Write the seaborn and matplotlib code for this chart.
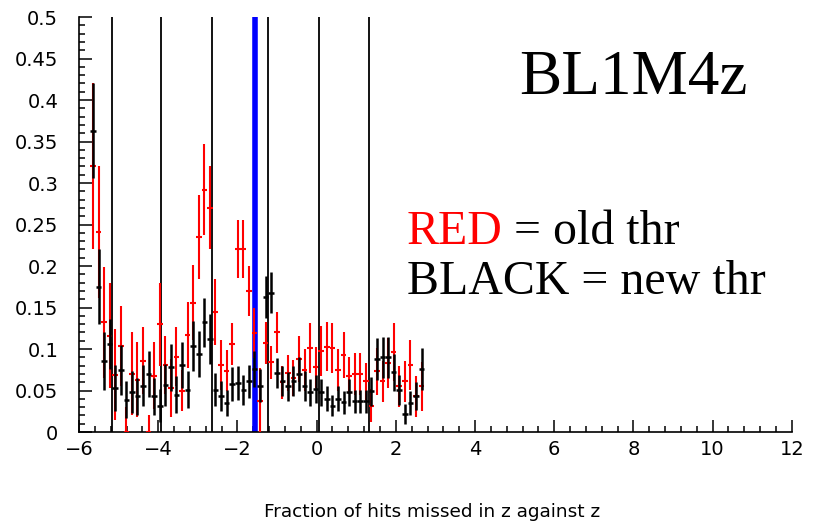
import numpy as np
import pandas as pd
import matplotlib
matplotlib.use("Agg")
import matplotlib.pyplot as plt
from matplotlib.ticker import MultipleLocator, FixedLocator
import seaborn as sns

# Histogram binning (z axis): 128 bins from -6 to 12, filled from bin 2 onward
z_lo, z_hi, n_bins = -6.0, 12.0, 128
first_bin = 2

# Fraction of hits missed, new threshold (black)
new_thr = [0.363, 0.175, 0.086, 0.106, 0.053, 0.075, 0.039, 0.048, 0.043, 0.056,
           0.070, 0.043, 0.032, 0.057, 0.078, 0.045, 0.081, 0.051, 0.104, 0.094,
           0.132, 0.112, 0.051, 0.043, 0.035, 0.058, 0.059, 0.051, 0.061, 0.076,
           0.056, 0.163, 0.168, 0.071, 0.061, 0.055, 0.061, 0.070, 0.055, 0.048,
           0.052, 0.048, 0.040, 0.032, 0.040, 0.036, 0.048, 0.037, 0.037, 0.037,
           0.049, 0.088, 0.090, 0.090, 0.072, 0.051, 0.022, 0.035, 0.043, 0.076]
new_err = [0.057, 0.045, 0.035, 0.030, 0.028, 0.030, 0.022, 0.025, 0.022, 0.025,
           0.028, 0.022, 0.020, 0.025, 0.028, 0.022, 0.028, 0.022, 0.030, 0.028,
           0.030, 0.030, 0.020, 0.018, 0.016, 0.020, 0.020, 0.018, 0.020, 0.022,
           0.020, 0.025, 0.025, 0.018, 0.018, 0.017, 0.018, 0.020, 0.018, 0.016,
           0.017, 0.016, 0.015, 0.013, 0.015, 0.014, 0.016, 0.014, 0.014, 0.014,
           0.017, 0.025, 0.025, 0.025, 0.022, 0.018, 0.012, 0.015, 0.017, 0.025]

# Fraction of hits missed, old threshold (red)
old_thr = [0.320, 0.241, 0.132, 0.116, 0.069, 0.104, 0.000, 0.070, 0.063, 0.086,
           0.000, 0.068, 0.130, 0.081, 0.053, 0.091, 0.050, 0.117, 0.156, 0.235,
           0.292, 0.270, 0.145, 0.081, 0.074, 0.106, 0.221, 0.221, 0.170, 0.119,
           0.037, 0.107, 0.084, 0.120, 0.060, 0.071, 0.065, 0.088, 0.075, 0.101,
           0.078, 0.098, 0.103, 0.101, 0.075, 0.093, 0.068, 0.070, 0.070, 0.061,
           0.032, 0.073, 0.061, 0.083, 0.096, 0.055, 0.061, 0.081, 0.043, 0.055]
old_err = [0.100, 0.080, 0.067, 0.063, 0.055, 0.048, 0.030, 0.050, 0.045, 0.040,
           0.020, 0.040, 0.050, 0.035, 0.035, 0.035, 0.025, 0.040, 0.045, 0.050,
           0.055, 0.050, 0.040, 0.030, 0.025, 0.025, 0.035, 0.035, 0.030, 0.030,
           0.040, 0.025, 0.020, 0.025, 0.020, 0.022, 0.022, 0.028, 0.025, 0.030,
           0.025, 0.030, 0.030, 0.030, 0.025, 0.028, 0.022, 0.025, 0.025, 0.022,
           0.020, 0.028, 0.025, 0.030, 0.035, 0.025, 0.025, 0.030, 0.025, 0.030]

# Module boundaries and the reference position
boundaries = [-5.17, -3.92, -2.63, -1.22, 0.07, 1.32]
reference_z = -1.55

x_ticks = [-6, -4, -2, 0, 2, 4, 6, 8, 10, 12]
y_ticks = [0, 0.05, 0.1, 0.15, 0.2, 0.25, 0.3, 0.35, 0.4, 0.45, 0.5]
y_tick_labels = ["0", "0.05", "0.1", "0.15", "0.2", "0.25", "0.3", "0.35",
                 "0.4", "0.45", "0.5"]

bin_w = (z_hi - z_lo) / n_bins
idx = np.arange(first_bin, first_bin + len(new_thr))
z = z_lo + (idx + 0.5) * bin_w

df = pd.DataFrame({
    "z": np.concatenate([z, z]),
    "frac": new_thr + old_thr,
    "err": new_err + old_err,
    "thr": ["new"] * len(new_thr) + ["old"] * len(old_thr),
})

sns.set_style("ticks")
plt.rcParams["font.family"] = ["DejaVu Sans"]
plt.rcParams["text.color"] = "black"
plt.rcParams["xtick.color"] = "black"
plt.rcParams["ytick.color"] = "black"

fig = plt.figure(figsize=(8.13, 5.25), dpi=100)
ax = fig.add_axes([0.0972, 0.177, 0.8768, 0.7906])

for b in boundaries:
    ax.axvline(b, color="black", lw=1.3, zorder=1)
ax.axvline(reference_z, color="#0000ff", lw=4.0, zorder=1)

for thr, col, lw in [("old", "#ff0000", 1.5), ("new", "black", 1.8)]:
    d = df[df["thr"] == thr]
    ax.errorbar(d["z"], d["frac"], xerr=bin_w / 2, yerr=d["err"], fmt="none",
                ecolor=col, elinewidth=lw, capsize=0, zorder=3)

ax.set_xlim(z_lo, z_hi)
ax.set_ylim(0, 0.5)
ax.xaxis.set_major_locator(FixedLocator(x_ticks))
ax.xaxis.set_minor_locator(MultipleLocator(0.4))
ax.yaxis.set_major_locator(FixedLocator(y_ticks))
ax.set_yticklabels(y_tick_labels)
ax.yaxis.set_minor_locator(MultipleLocator(0.01))
ax.tick_params(which="both", direction="in", width=1.1, color="black",
               labelcolor="black", labelsize=14)
ax.tick_params(which="major", length=9)
ax.tick_params(which="minor", length=4.5)
ax.tick_params(axis="x", pad=6)
ax.tick_params(axis="y", pad=15)
for s in ["left", "bottom"]:
    ax.spines[s].set_linewidth(1.2)
    ax.spines[s].set_color("black")
sns.despine(ax=ax)

fig.text(0.532, 0.008, "Fraction of hits missed in z against z",
         ha="center", va="bottom", fontsize=13.3, color="black")

serif = ["Liberation Serif", "DejaVu Serif"]
ax.text(0.638, 0.82, "BL1M4z", transform=fig.transFigure, family=serif,
        fontsize=45.5, color="black", va="baseline")
t_red = ax.text(0.5, 0.535, "RED", transform=fig.transFigure, family=serif,
                fontsize=34.5, color="#ff0000", va="baseline")
ax.annotate(" = old thr", xy=(1, 0), xycoords=t_red, va="bottom",
            family=serif, fontsize=34.5, color="black")
ax.text(0.5, 0.44, "BLACK = new thr", transform=fig.transFigure, family=serif,
        fontsize=34.5, color="black", va="baseline")

fig.savefig("out.png", dpi=100)
